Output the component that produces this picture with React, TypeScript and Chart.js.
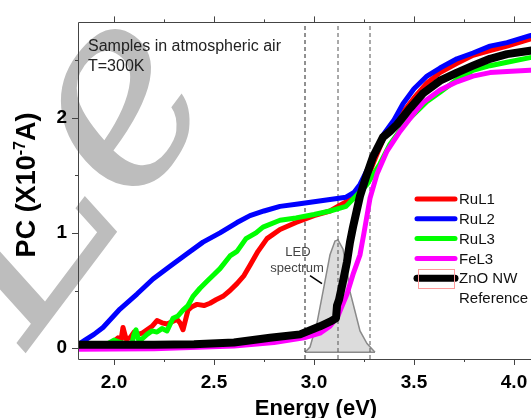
import React, { useEffect, useRef } from 'react';
import { Chart, registerables } from 'chart.js';
Chart.register(...registerables);

// ---------------- data ----------------
const seriesLabels = ['RuL1', 'RuL2', 'RuL3', 'FeL3', 'ZnO NW'];
const legendExtraLine = 'Reference';
const seriesColors = ['#ff0000', '#0000ff', '#00ff00', '#ff00ff', '#000000'];

const energyRuL1 = [1.82, 1.9, 1.96, 2.0, 2.02, 2.035, 2.045, 2.06, 2.08, 2.1, 2.12, 2.14, 2.165, 2.19, 2.215, 2.24, 2.265, 2.29, 2.315, 2.33, 2.345, 2.37, 2.39, 2.415, 2.45, 2.48, 2.51, 2.545, 2.58, 2.615, 2.65, 2.68, 2.72, 2.765, 2.83, 2.91, 3.0, 3.08, 3.13, 3.195, 3.25, 3.3, 3.35, 3.42, 3.5, 3.565, 3.63, 3.715, 3.795, 3.88, 3.965, 4.08, 4.2];
const pcRuL1 = [0.02, 0.02, 0.03, 0.06, 0.09, 0.07, 0.18, 0.08, 0.09, 0.14, 0.12, 0.13, 0.16, 0.19, 0.24, 0.22, 0.21, 0.23, 0.25, 0.22, 0.16, 0.33, 0.36, 0.38, 0.37, 0.39, 0.42, 0.45, 0.5, 0.56, 0.63, 0.72, 0.84, 0.95, 1.03, 1.09, 1.15, 1.19, 1.24, 1.3, 1.4, 1.62, 1.83, 1.99, 2.17, 2.3, 2.39, 2.47, 2.54, 2.58, 2.62, 2.68, 2.73];

const energyRuL2 = [1.82, 1.855, 1.9, 1.945, 2.03, 2.115, 2.195, 2.28, 2.365, 2.445, 2.53, 2.615, 2.68, 2.75, 2.83, 2.92, 3.0, 3.08, 3.16, 3.2, 3.23, 3.27, 3.31, 3.35, 3.4, 3.445, 3.5, 3.565, 3.63, 3.715, 3.795, 3.88, 3.965, 4.08, 4.2];
const pcRuL2 = [0.03, 0.07, 0.12, 0.18, 0.34, 0.47, 0.6, 0.71, 0.82, 0.92, 1.0, 1.09, 1.15, 1.19, 1.23, 1.25, 1.27, 1.29, 1.31, 1.35, 1.42, 1.56, 1.72, 1.86, 1.98, 2.12, 2.25, 2.36, 2.43, 2.51, 2.56, 2.62, 2.65, 2.71, 2.76];

const energyRuL3 = [1.82, 1.9, 1.96, 2.0, 2.03, 2.06, 2.09, 2.1, 2.11, 2.125, 2.14, 2.165, 2.19, 2.215, 2.24, 2.265, 2.295, 2.32, 2.345, 2.37, 2.395, 2.43, 2.465, 2.5, 2.53, 2.58, 2.615, 2.66, 2.71, 2.745, 2.83, 2.91, 3.0, 3.08, 3.16, 3.21, 3.265, 3.33, 3.38, 3.465, 3.565, 3.63, 3.715, 3.795, 3.88, 3.965, 4.08, 4.2];
const pcRuL3 = [0.0, 0.01, 0.03, 0.07, 0.05, 0.04, 0.04, 0.12, 0.16, 0.06, 0.08, 0.12, 0.15, 0.14, 0.17, 0.15, 0.26, 0.28, 0.33, 0.37, 0.45, 0.52, 0.58, 0.64, 0.69, 0.8, 0.84, 0.95, 1.0, 1.05, 1.11, 1.13, 1.16, 1.19, 1.23, 1.32, 1.42, 1.6, 1.77, 1.97, 2.14, 2.22, 2.33, 2.41, 2.45, 2.48, 2.52, 2.55];

const energyFeL3 = [1.82, 2.2, 2.6, 2.8, 2.95, 3.03, 3.08, 3.12, 3.165, 3.195, 3.23, 3.25, 3.28, 3.315, 3.365, 3.43, 3.515, 3.545, 3.63, 3.715, 3.795, 3.88, 3.965, 4.08, 4.2];
const pcFeL3 = [-0.01, -0.005, 0.02, 0.05, 0.09, 0.13, 0.19, 0.28, 0.47, 0.64, 0.81, 1.0, 1.3, 1.51, 1.71, 1.88, 2.07, 2.13, 2.24, 2.31, 2.36, 2.39, 2.4, 2.41, 2.42];

const energyZnO = [1.82, 2.0, 2.2, 2.4, 2.6, 2.78, 2.93, 3.03, 3.08, 3.11, 3.115, 3.125, 3.145, 3.165, 3.18, 3.195, 3.23, 3.265, 3.295, 3.345, 3.38, 3.415, 3.48, 3.545, 3.63, 3.715, 3.795, 3.88, 3.965, 4.08, 4.2];
const pcZnO = [0.03, 0.03, 0.03, 0.035, 0.05, 0.09, 0.12, 0.19, 0.23, 0.26, 0.37, 0.42, 0.58, 0.75, 0.92, 1.05, 1.32, 1.51, 1.66, 1.83, 1.88, 1.94, 2.08, 2.21, 2.32, 2.39, 2.45, 2.51, 2.55, 2.58, 2.61];

const ledEnergy = [2.955, 2.98, 3.015, 3.045, 3.08, 3.105, 3.12, 3.145, 3.165, 3.18, 3.205, 3.23, 3.265, 3.305];
const ledIntensity = [-0.035, 0.01, 0.22, 0.49, 0.81, 0.93, 0.94, 0.86, 0.68, 0.49, 0.32, 0.15, 0.04, -0.035];
const ledBase = -0.035;

const dashedEnergies = [2.955, 3.12, 3.28];

const xMin = 1.82;
const xMax = 4.2;
const yMin = -0.0936;
const yMax = 2.8255;
const xTicks = [2.0, 2.5, 3.0, 3.5, 4.0];
const xMinorTicks = [2.25, 2.75, 3.25, 3.75];
const yTicks = [0, 1, 2];
const yMinorTicks = [0.5, 1.5, 2.5];

const noteLines = ['Samples in atmospheric air', 'T=300K'];
const ledLabelLines = ['LED', 'spectrum'];
const xTitle = 'Energy (eV)';
const watermarkText = 'Le';

const FONT = '"Liberation Sans", Arial, Helvetica, sans-serif';

function pts(xs: number[], ys: number[]) {
  return xs.map((x, i) => ({ x, y: ys[i] }));
}

const overlay = {
  id: 'overlay',
  beforeDraw(chart: any) {
    const { ctx } = chart;
    ctx.save();
    ctx.translate(28, 350);
    ctx.rotate(-53 * Math.PI / 180);
    ctx.font = `italic 260px "DejaVu Serif", serif`;
    ctx.fillStyle = '#bdbdbd';
    ctx.textAlign = 'left';
    ctx.textBaseline = 'alphabetic';
    ctx.fillText(watermarkText, 0, 0);
    ctx.restore();
  },
  afterDatasetsDraw(chart: any) {
    const { ctx, chartArea } = chart;
    const { left, right, top, bottom } = chartArea;
    const x = chart.scales.x;
    const y = chart.scales.y;
    ctx.save();
    ctx.strokeStyle = '#444';
    ctx.lineWidth = 1;
    ctx.beginPath();
    ctx.rect(Math.round(left) + 0.5, Math.round(top) + 0.5, Math.round(right - left), Math.round(bottom - top));
    ctx.stroke();
    ctx.beginPath();
    const bx = (v: number, len: number) => {
      const px = Math.round(x.getPixelForValue(v)) + 0.5;
      ctx.moveTo(px, bottom); ctx.lineTo(px, bottom + len);
      ctx.moveTo(px, top); ctx.lineTo(px, top - len);
    };
    xTicks.forEach((v) => bx(v, 6));
    xMinorTicks.forEach((v) => bx(v, 3));
    const ly = (v: number, len: number) => {
      const py = Math.round(y.getPixelForValue(v)) + 0.5;
      ctx.moveTo(left, py); ctx.lineTo(left - len, py);
    };
    yTicks.forEach((v) => ly(v, 6));
    yMinorTicks.forEach((v) => ly(v, 3));
    ctx.stroke();
    ctx.restore();
  },
  afterDraw(chart: any) {
    const { ctx, chartArea } = chart;
    const { left, top } = chartArea;
    const x = chart.scales.x;
    const y = chart.scales.y;
    ctx.save();
    // note text
    ctx.fillStyle = '#222';
    ctx.font = `16px ${FONT}`;
    ctx.textAlign = 'left';
    ctx.textBaseline = 'alphabetic';
    ctx.fillText(noteLines[0], left + 10, top + 29);
    ctx.fillText(noteLines[1], left + 10, top + 49);

    // LED label
    ctx.fillStyle = '#444';
    ctx.font = `13px ${FONT}`;
    ctx.textAlign = 'center';
    ctx.textBaseline = 'middle';
    ctx.fillText(ledLabelLines[0], x.getPixelForValue(2.92), y.getPixelForValue(0.834));
    ctx.fillText(ledLabelLines[1], x.getPixelForValue(2.915), y.getPixelForValue(0.695));
    ctx.strokeStyle = '#000';
    ctx.lineWidth = 1.5;
    ctx.beginPath();
    ctx.moveTo(x.getPixelForValue(2.98), y.getPixelForValue(0.63));
    ctx.lineTo(x.getPixelForValue(3.04), y.getPixelForValue(0.56));
    ctx.stroke();

    // legend
    const lx0 = 417, lx1 = 455, ly0 = 199, dy = 19.8;
    ctx.font = `15px ${FONT}`;
    ctx.textAlign = 'left';
    ctx.textBaseline = 'middle';
    seriesLabels.forEach((lab, i) => {
      const yy = ly0 + i * dy;
      ctx.strokeStyle = seriesColors[i];
      ctx.lineWidth = i === 4 ? 7 : 5;
      ctx.lineCap = 'round';
      ctx.beginPath();
      ctx.moveTo(lx0, yy);
      ctx.lineTo(lx1, yy);
      ctx.stroke();
      ctx.fillStyle = '#111';
      ctx.fillText(lab, lx1 + 4, yy + 1);
    });
    ctx.fillText(legendExtraLine, lx1 + 4, ly0 + 5 * dy + 1);
    ctx.lineCap = 'butt';
    ctx.strokeStyle = '#ff9a9a';
    ctx.lineWidth = 1;
    ctx.strokeRect(418.5, 269.5, 36, 19);

    // y title
    ctx.fillStyle = '#000';
    ctx.save();
    ctx.translate(25, 185);
    ctx.rotate(-Math.PI / 2);
    const p1 = 'PC (X10', p2 = '-7', p3 = 'A)';
    ctx.font = `bold 27px ${FONT}`;
    const w1 = ctx.measureText(p1).width;
    const w3 = ctx.measureText(p3).width;
    ctx.font = `bold 16px ${FONT}`;
    const w2 = ctx.measureText(p2).width;
    let sx = -(w1 + w2 + w3) / 2;
    ctx.textAlign = 'left';
    ctx.textBaseline = 'alphabetic';
    ctx.font = `bold 27px ${FONT}`;
    ctx.fillText(p1, sx, 10);
    sx += w1;
    ctx.font = `bold 16px ${FONT}`;
    ctx.fillText(p2, sx, 0);
    sx += w2;
    ctx.font = `bold 27px ${FONT}`;
    ctx.fillText(p3, sx, 10);
    ctx.restore();

    // x title
    ctx.font = `bold 22px ${FONT}`;
    ctx.textAlign = 'center';
    ctx.textBaseline = 'alphabetic';
    ctx.fillStyle = '#000';
    ctx.fillText(xTitle, (chartArea.left + chartArea.right) / 2, 415);

    ctx.restore();
  },
};

export default function App() {
  const ref = useRef<HTMLCanvasElement | null>(null);
  useEffect(() => {
    if (!ref.current) return;
    const lineDs = (label: string, xs: number[], ys: number[], color: string, width: number) => ({
      label,
      data: pts(xs, ys),
      borderColor: color,
      backgroundColor: color,
      borderWidth: width,
      pointRadius: 0,
      tension: 0,
      borderJoinStyle: 'round',
      borderCapStyle: 'round',
      fill: false,
    });
    const datasets: any[] = [
      lineDs(seriesLabels[4], energyZnO, pcZnO, seriesColors[4], 8),
      lineDs(seriesLabels[3], energyFeL3, pcFeL3, seriesColors[3], 5),
      lineDs(seriesLabels[2], energyRuL3, pcRuL3, seriesColors[2], 5),
      lineDs(seriesLabels[1], energyRuL2, pcRuL2, seriesColors[1], 5),
      lineDs(seriesLabels[0], energyRuL1, pcRuL1, seriesColors[0], 5),
      ...dashedEnergies.map((e, i) => ({
        label: 'dash' + i,
        data: [{ x: e, y: yMin }, { x: e, y: yMax }],
        borderColor: i === 0 ? '#222' : '#555',
        borderWidth: 1,
        borderDash: [4, 3],
        pointRadius: 0,
        fill: false,
      })),
      {
        label: 'LED base',
        data: [{ x: ledEnergy[0], y: ledBase }, { x: ledEnergy[ledEnergy.length - 1], y: ledBase }],
        borderColor: '#8a8a8a',
        borderWidth: 1.5,
        pointRadius: 0,
        fill: false,
      },
      {
        label: 'LED spectrum',
        data: pts(ledEnergy, ledIntensity),
        borderColor: '#8a8a8a',
        backgroundColor: '#dcdcdc',
        borderWidth: 1.5,
        pointRadius: 0,
        tension: 0,
        fill: { value: ledBase },
      },
    ];
    const chart = new Chart(ref.current, {
      type: 'line',
      data: { datasets },
      plugins: [overlay],
      options: {
        animation: false,
        responsive: false,
        devicePixelRatio: 1,
        layout: { padding: { left: 0, top: 16, right: 46, bottom: 0 } },
        plugins: { legend: { display: false }, tooltip: { enabled: false }, title: { display: false } },
        scales: {
          x: {
            type: 'linear',
            min: xMin,
            max: xMax,
            afterBuildTicks: (s: any) => { s.ticks = xTicks.map((v) => ({ value: v })); },
            afterFit: (s: any) => { s.height = 59; },
            grid: { display: false, drawTicks: false },
            border: { display: false },
            ticks: {
              padding: 12,
              color: '#000',
              font: { family: FONT, size: 19, weight: 'bold' },
              callback: (v: any) => Number(v).toFixed(1),
            },
          },
          y: {
            type: 'linear',
            min: yMin,
            max: yMax,
            afterBuildTicks: (s: any) => { s.ticks = yTicks.map((v) => ({ value: v })); },
            afterFit: (s: any) => { s.width = 78; },
            grid: { display: false, drawTicks: false },
            border: { display: false },
            ticks: {
              padding: 11,
              color: '#000',
              font: { family: FONT, size: 19, weight: 'bold' },
              callback: (v: any) => String(v),
            },
          },
        },
      } as any,
    });
    return () => chart.destroy();
  }, []);
  return (
    <div style={{ position: 'fixed', left: 0, top: 0, width: 531, height: 418, overflow: 'hidden', background: '#fff' }}>
      <canvas ref={ref} width={600} height={418} style={{ display: 'block', width: 600, height: 418 }} />
    </div>
  );
}
